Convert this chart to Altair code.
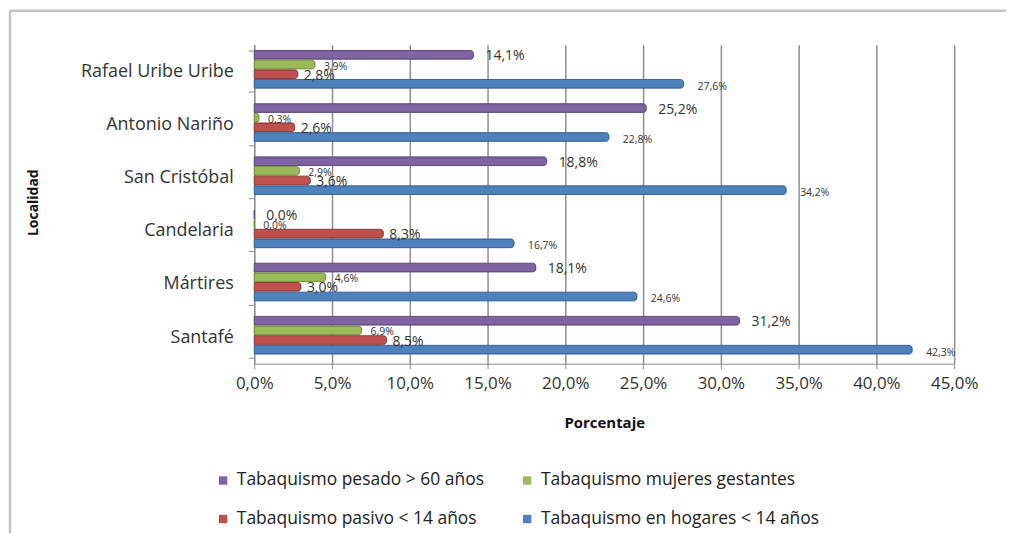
import altair as alt
import pandas as pd

# ---- data ----
localidades = ["Rafael Uribe Uribe", "Antonio Nariño", "San Cristóbal",
               "Candelaria", "Mártires", "Santafé"]
series = ["Tabaquismo pesado > 60 años", "Tabaquismo mujeres gestantes",
          "Tabaquismo pasivo < 14 años", "Tabaquismo en hogares < 14 años"]
pesado = [14.1, 25.2, 18.8, 0.0, 18.1, 31.2]
gestantes = [3.9, 0.3, 2.9, 0.0, 4.6, 6.9]
pasivo = [2.8, 2.6, 3.6, 8.3, 3.0, 8.5]
hogares = [27.6, 22.8, 34.2, 16.7, 24.6, 42.3]
x_ticks = [0, 5, 10, 15, 20, 25, 30, 35, 40, 45]

# ---- styles ----
fills = ["#8064A2", "#9BBB59", "#C0504D", "#4F81BD"]
strokes = ["#5E4A7C", "#76903F", "#943B39", "#3A639A"]
# legend is filled column by column, so list it in that order
legend_order = [series[0], series[2], series[1], series[3]]
legend_fills = [fills[0], fills[2], fills[1], fills[3]]
label_style = {  # fontSize, dx, dy
    series[0]: (14, 12, 1.5),
    series[1]: (10.5, 9, 2),
    series[2]: (14, 6, 1.5),
    series[3]: (10.5, 14, 3),
}
FONT = "Open Sans"
W, H = 702, 320

rows = []
for i, loc in enumerate(localidades):
    for s, vals in zip(series, [pesado, gestantes, pasivo, hogares]):
        rows.append({"Localidad": loc, "Serie": s, "Valor": vals[i]})
df = pd.DataFrame(rows)

y_scale = alt.Scale(domain=localidades, paddingInner=0.22, paddingOuter=0.11)
yo_scale = alt.Scale(domain=series, paddingInner=0.1, paddingOuter=0.2, align=0)
x_scale = alt.Scale(domain=[0, 45], nice=False)

x_enc = alt.X(
    "Valor:Q", scale=x_scale,
    axis=alt.Axis(values=x_ticks,
                  labelExpr="replace(format(datum.value, '.1f'), '.', ',') + '%'",
                  labelFlush=False, labelOverlap=False,
                  title="Porcentaje", grid=True, gridColor="#8f8f8f", gridWidth=1.5,
                  domainColor="#8f8f8f", tickColor="#8f8f8f", tickSize=5,
                  labelFontSize=17, labelColor="#333333", labelPadding=7,
                  titleFontSize=15, titleFontWeight="bold", titleColor="#111111",
                  titleY=59, titleBaseline="middle"))
y_enc = alt.Y(
    "Localidad:N", scale=y_scale,
    axis=alt.Axis(title="Localidad", tickBand="extent", grid=False,
                  domainColor="#8f8f8f", tickColor="#8f8f8f", tickSize=6,
                  labelFontSize=18, labelColor="#333333", labelPadding=15,
                  titleFontSize=14, titleFontWeight="bold", titleColor="#111111",
                  titleX=-221, titleY=158, titleAngle=270,
                  titleAlign="center", titleBaseline="middle"))
yo_enc = alt.YOffset("Serie:N", scale=yo_scale)

bars = alt.Chart(df).mark_bar(cornerRadiusEnd=3, strokeWidth=1).encode(
    x=x_enc, y=y_enc, yOffset=yo_enc,
    color=alt.Color("Serie:N", scale=alt.Scale(domain=legend_order, range=legend_fills),
                    legend=alt.Legend(orient="none", legendX=-40, legendY=428,
                                      columns=2, title=None, symbolType="square",
                                      symbolSize=70, symbolStrokeWidth=0,
                                      labelFont=FONT, labelFontSize=17.5, labelLimit=0,
                                      labelColor="#222222", columnPadding=34,
                                      rowPadding=20, labelOffset=5)),
    stroke=alt.Stroke("Serie:N", scale=alt.Scale(domain=series, range=strokes),
                      legend=None),
)

texts = []
for s in series:
    fs, dx, dy = label_style[s]
    texts.append(
        alt.Chart(df).transform_filter(alt.datum.Serie == s)
        .transform_calculate(label="replace(format(datum.Valor, '.1f'), '.', ',') + '%'")
        .mark_text(align="left", baseline="middle", dx=dx, dy=dy, fontSize=fs,
                   font=FONT, color="#333333")
        .encode(x=alt.X("Valor:Q", scale=x_scale),
                y=alt.Y("Localidad:N", scale=y_scale),
                yOffset=alt.YOffset("Serie:N", scale=yo_scale),
                text="label:N")
    )

frame_df = pd.DataFrame({"k": [0]})
left_rule = alt.Chart(frame_df).mark_rule(color="#c4c4c4", strokeWidth=2.5).encode(
    x=alt.value(-245), y=alt.value(-34), y2=alt.value(490))
top_rule = alt.Chart(frame_df).mark_rule(color="#c4c4c4", strokeWidth=2.5).encode(
    x=alt.value(-245), x2=alt.value(754), y=alt.value(-34))

chart = alt.layer(bars, *texts, left_rule, top_rule).properties(
    width=W, height=H, padding=0
).configure(font=FONT).configure_view(stroke="transparent").configure_axis(
    labelFont=FONT, titleFont=FONT)

chart.save("out.html", embed_options={"renderer": "svg", "actions": False})
